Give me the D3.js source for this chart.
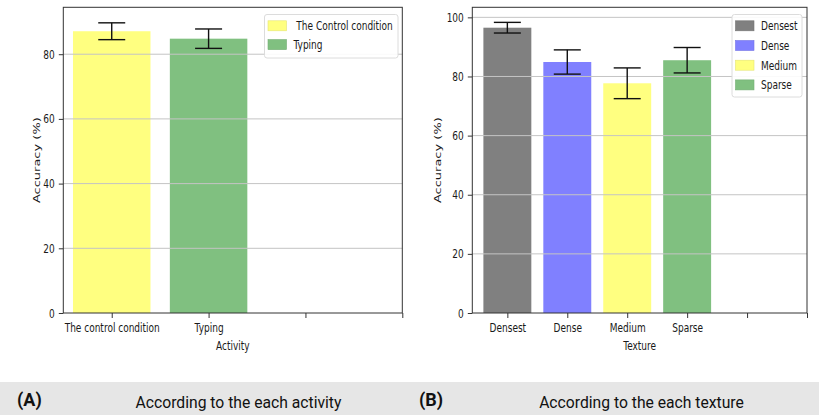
<!DOCTYPE html>
<html>
<head>
<meta charset="utf-8">
<script src="https://cdn.jsdelivr.net/npm/d3@7"></script>
<style>
  html, body { margin: 0; padding: 0; background: #fff; }
  svg { display: block; }
</style>
</head>
<body>
<svg id="chart" width="819" height="415"></svg>
<script>
// ---------------- data ----------------
const activities = ["The control condition", "Typing"];
const activityLegend = [" The Control condition", "Typing"];
const activityMeans = [87.1, 84.8];
const activityErr = [2.6, 3.0];
const activityColors = ["#ffff80", "#80c080"];
const activityTicks = [0, 20, 40, 60, 80];

const textures = ["Densest", "Dense", "Medium", "Sparse"];
const textureMeans = [96.5, 84.9, 77.7, 85.5];
const textureErr = [1.8, 4.1, 5.2, 4.3];
const textureColors = ["#808080", "#8080ff", "#ffff80", "#80c080"];
const textureTicks = [0, 20, 40, 60, 80, 100];

const captions = [
  { tag: "(A)", text: "According to the each activity" },
  { tag: "(B)", text: "According to the each texture" }
];

// ---------------- drawing ----------------
const SX = 0.72;            // horizontal squeeze of the matplotlib text
const FONT = "DejaVu Sans";
const svg = d3.select("#chart");

function squeezeText(sel) {
  sel.each(function () {
    const t = d3.select(this);
    const x = +(t.attr("x") || 0);
    t.attr("x", x / SX).attr("transform", `scale(${SX},1)`);
  });
}

function drawPanel(opt) {
  const { left, right, top, bottom, cats, means, errs, colors, legendLabels,
          yMax, yTicks, xMin, xMax, nTicks, xLabel, legendBox, yLabelOff } = opt;

  const x = d3.scaleLinear().domain([xMin, xMax]).range([left, right]);
  const y = d3.scaleLinear().domain([0, yMax]).range([bottom, top]);
  const g = svg.append("g");
  const bw = x(0.8) - x(0);

  // bars
  g.selectAll("rect.bar").data(means).join("rect")
    .attr("class", "bar")
    .attr("x", (d, i) => x(i) - bw / 2)
    .attr("width", bw)
    .attr("y", d => y(d))
    .attr("height", d => y(0) - y(d))
    .attr("fill", (d, i) => colors[i]);

  // grid (over bars)
  g.append("g").selectAll("line").data(yTicks.filter(t => t > 0)).join("line")
    .attr("x1", left).attr("x2", right)
    .attr("y1", d => y(d)).attr("y2", d => y(d))
    .attr("stroke", "#c4c4c4").attr("stroke-width", 1);

  // error bars
  const cap = 13.5;
  const eb = g.append("g").attr("stroke", "#111").attr("stroke-width", 1.4);
  means.forEach((m, i) => {
    const cx = x(i);
    eb.append("line").attr("x1", cx).attr("x2", cx).attr("y1", y(m - errs[i])).attr("y2", y(m + errs[i]));
    eb.append("line").attr("x1", cx - cap).attr("x2", cx + cap).attr("y1", y(m - errs[i])).attr("y2", y(m - errs[i]));
    eb.append("line").attr("x1", cx - cap).attr("x2", cx + cap).attr("y1", y(m + errs[i])).attr("y2", y(m + errs[i]));
  });

  // frame
  g.append("rect").attr("x", left).attr("y", top)
    .attr("width", right - left).attr("height", bottom - top)
    .attr("fill", "none").attr("stroke", "#333").attr("stroke-width", 1);

  // y axis
  const ya = g.append("g").attr("transform", `translate(${left},0)`)
    .call(d3.axisLeft(y).tickValues(yTicks).tickSize(4.5).tickPadding(4).tickFormat(d3.format("d")));
  ya.select(".domain").remove();
  ya.selectAll("line").attr("stroke", "#333");
  ya.selectAll("text").attr("font-family", FONT).attr("font-size", 12.5).attr("fill", "#1a1a1a").call(squeezeText);

  // x axis
  const xa = g.append("g").attr("transform", `translate(0,${bottom})`)
    .call(d3.axisBottom(x).tickValues(d3.range(nTicks)).tickSize(5).tickPadding(5.5)
      .tickFormat(i => cats[i] || ""));
  xa.select(".domain").remove();
  xa.selectAll("line").attr("stroke", "#333");
  xa.selectAll("text").attr("font-family", FONT).attr("font-size", 12.5).attr("fill", "#1a1a1a").call(squeezeText);

  // axis titles
  g.append("text")
    .attr("transform", `translate(${left + (right - left) / 2},${bottom + 37}) scale(${SX},1)`)
    .attr("text-anchor", "middle")
    .attr("font-family", FONT).attr("font-size", 12.5).attr("fill", "#1a1a1a")
    .text(xLabel);
  g.append("text")
    .attr("transform", `translate(${left - yLabelOff},${(top + bottom) / 2}) scale(${SX},1) rotate(-90)`)
    .attr("text-anchor", "middle")
    .attr("font-family", FONT).attr("font-size", 13).attr("fill", "#1a1a1a")
    .text("Accuracy (%)");

  // legend
  const lg = g.append("g");
  lg.append("rect").attr("x", legendBox.x).attr("y", legendBox.y)
    .attr("width", legendBox.w).attr("height", legendBox.h)
    .attr("rx", 2.5).attr("fill", "#fff").attr("fill-opacity", 0.9)
    .attr("stroke", "#dcdcdc").attr("stroke-width", 1);
  legendLabels.forEach((lab, i) => {
    const cy = legendBox.y + 11.3 + i * legendBox.step;
    lg.append("rect").attr("x", legendBox.x + 3.5).attr("y", cy - 5)
      .attr("width", 18.5).attr("height", 10)
      .attr("fill", colors[i]).attr("stroke", d3.color(colors[i]).darker(0.3)).attr("stroke-width", 0.6);
    lg.append("text")
      .attr("transform", `translate(${legendBox.x + 29},${cy + 4.5}) scale(${SX},1)`)
      .attr("font-family", FONT).attr("font-size", 12.5).attr("fill", "#1a1a1a")
      .attr("xml:space", "preserve").style("white-space", "pre")
      .text(lab);
  });
}

drawPanel({
  left: 63.3, right: 402.3, top: 7.3, bottom: 313,
  cats: activities, means: activityMeans, errs: activityErr, colors: activityColors,
  legendLabels: activityLegend,
  yMax: 94.5, yTicks: activityTicks, xMin: -0.5, xMax: 3, nTicks: 4,
  xLabel: "Activity", yLabelOff: 23.5,
  legendBox: { x: 264.5, y: 14.5, w: 133.5, h: 43.5, step: 18.8 }
});

drawPanel({
  left: 472.3, right: 807, top: 7.3, bottom: 313,
  cats: textures, means: textureMeans, errs: textureErr, colors: textureColors,
  legendLabels: textures,
  yMax: 103.4, yTicks: textureTicks, xMin: -0.585, xMax: 5, nTicks: 6,
  xLabel: "Texture", yLabelOff: 31.3,
  legendBox: { x: 732, y: 14.5, w: 70, h: 82.5, step: 19.7 }
});

// caption strip
svg.append("rect").attr("x", 0).attr("y", 382).attr("width", 819).attr("height", 33).attr("fill", "#e6e6e6");
const capX = [{ tag: 17, mid: 238.5 }, { tag: 419, mid: 641.5 }];
captions.forEach((c, i) => {
  svg.append("text").attr("x", capX[i].tag).attr("y", 405.5)
    .attr("font-family", "Roboto").attr("font-weight", "bold").attr("font-size", 18)
    .attr("fill", "#111").text(c.tag);
  svg.append("text").attr("x", capX[i].mid).attr("y", 407.5)
    .attr("text-anchor", "middle")
    .attr("font-family", "Roboto").attr("font-size", 15.7)
    .attr("fill", "#111").text(c.text);
});
</script>
</body>
</html>
